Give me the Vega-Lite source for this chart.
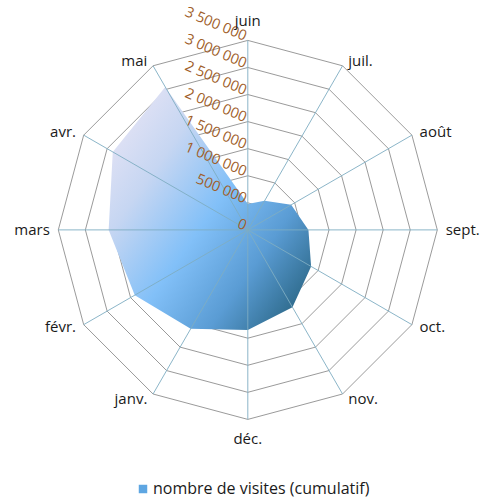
{
  "$schema": "https://vega.github.io/schema/vega-lite/v6.json",
  "width": 486,
  "height": 498,
  "autosize": {"type": "fit", "contains": "padding"},
  "padding": 0,
  "background": "white",
  "config": {
    "view": {"stroke": null},
    "locale": {"number": {"decimal": ",", "thousands": "\u00a0", "grouping": [3], "currency": ["", " €"]}}
  },
  "datasets": {
    "visites": [
      {"mois": "juin", "i": 0, "visites": 480000, "serie": "nombre de visites (cumulatif)"},
      {"mois": "juil.", "i": 1, "visites": 620000, "serie": "nombre de visites (cumulatif)"},
      {"mois": "août", "i": 2, "visites": 925000, "serie": "nombre de visites (cumulatif)"},
      {"mois": "sept.", "i": 3, "visites": 1120000, "serie": "nombre de visites (cumulatif)"},
      {"mois": "oct.", "i": 4, "visites": 1350000, "serie": "nombre de visites (cumulatif)"},
      {"mois": "nov.", "i": 5, "visites": 1650000, "serie": "nombre de visites (cumulatif)"},
      {"mois": "déc.", "i": 6, "visites": 1850000, "serie": "nombre de visites (cumulatif)"},
      {"mois": "janv.", "i": 7, "visites": 2110000, "serie": "nombre de visites (cumulatif)"},
      {"mois": "févr.", "i": 8, "visites": 2410000, "serie": "nombre de visites (cumulatif)"},
      {"mois": "mars", "i": 9, "visites": 2570000, "serie": "nombre de visites (cumulatif)"},
      {"mois": "avr.", "i": 10, "visites": 2880000, "serie": "nombre de visites (cumulatif)"},
      {"mois": "mai", "i": 11, "visites": 3050000, "serie": "nombre de visites (cumulatif)"}
    ],
    "anneaux": [
      {"niveau": 500000, "i": [0, 1, 2, 3, 4, 5, 6, 7, 8, 9, 10, 11]},
      {"niveau": 1000000, "i": [0, 1, 2, 3, 4, 5, 6, 7, 8, 9, 10, 11]},
      {"niveau": 1500000, "i": [0, 1, 2, 3, 4, 5, 6, 7, 8, 9, 10, 11]},
      {"niveau": 2000000, "i": [0, 1, 2, 3, 4, 5, 6, 7, 8, 9, 10, 11]},
      {"niveau": 2500000, "i": [0, 1, 2, 3, 4, 5, 6, 7, 8, 9, 10, 11]},
      {"niveau": 3000000, "i": [0, 1, 2, 3, 4, 5, 6, 7, 8, 9, 10, 11]},
      {"niveau": 3500000, "i": [0, 1, 2, 3, 4, 5, 6, 7, 8, 9, 10, 11]}
    ],
    "graduations": [
      {"valeur": 0}, {"valeur": 500000}, {"valeur": 1000000}, {"valeur": 1500000},
      {"valeur": 2000000}, {"valeur": 2500000}, {"valeur": 3000000}, {"valeur": 3500000}
    ]
  },
  "layer": [
    {
      "data": {"name": "anneaux"},
      "transform": [
        {"flatten": ["i"]},
        {"calculate": "datum.niveau * sin(datum.i * PI / 6)", "as": "px"},
        {"calculate": "datum.niveau * cos(datum.i * PI / 6)", "as": "py"}
      ],
      "mark": {"type": "line", "interpolate": "linear-closed", "stroke": "#8e8e8e", "strokeWidth": 0.9},
      "encoding": {
        "x": {"field": "px", "type": "quantitative", "scale": {"domain": [-4576792, 4399483], "nice": false, "zero": false}, "axis": null},
        "y": {"field": "py", "type": "quantitative", "scale": {"domain": [-4951726, 4246183], "nice": false, "zero": false}, "axis": null},
        "detail": {"field": "niveau", "type": "nominal"},
        "order": {"field": "i", "type": "quantitative"}
      }
    },
    {
      "data": {"name": "visites"},
      "transform": [
        {"calculate": "datum.visites * sin(datum.i * PI / 6)", "as": "px"},
        {"calculate": "datum.visites * cos(datum.i * PI / 6)", "as": "py"}
      ],
      "mark": {
        "type": "line",
        "interpolate": "linear-closed",
        "filled": true,
        "strokeWidth": 0,
        "fill": {
          "gradient": "linear",
          "x1": 0, "y1": 0, "x2": 1, "y2": 0.85,
          "stops": [
            {"offset": 0, "color": "#f1e9f6"},
            {"offset": 0.3, "color": "#c6d6f2"},
            {"offset": 0.55, "color": "#82c0f8"},
            {"offset": 0.78, "color": "#5a9cd4"},
            {"offset": 1, "color": "#2c6888"}
          ]
        }
      },
      "encoding": {
        "x": {"field": "px", "type": "quantitative", "scale": {"domain": [-4576792, 4399483], "nice": false, "zero": false}, "axis": null},
        "y": {"field": "py", "type": "quantitative", "scale": {"domain": [-4951726, 4246183], "nice": false, "zero": false}, "axis": null},
        "order": {"field": "i", "type": "quantitative"}
      }
    },
    {
      "data": {"name": "visites"},
      "transform": [
        {"calculate": "3500000 * sin(datum.i * PI / 6)", "as": "ox"},
        {"calculate": "3500000 * cos(datum.i * PI / 6)", "as": "oy"}
      ],
      "mark": {"type": "rule", "stroke": "#7eadc2", "strokeWidth": 1, "opacity": 0.9},
      "encoding": {
        "x": {"field": "ox", "type": "quantitative", "scale": {"domain": [-4576792, 4399483], "nice": false, "zero": false}, "axis": null},
        "y": {"field": "oy", "type": "quantitative", "scale": {"domain": [-4951726, 4246183], "nice": false, "zero": false}, "axis": null},
        "x2": {"datum": 0},
        "y2": {"datum": 0}
      }
    },
    {
      "data": {"name": "graduations"},
      "mark": {"type": "text", "align": "right", "baseline": "middle", "angle": 23, "dx": -3, "dy": -2, "font": "Open Sans", "fontSize": 14.5, "color": "#a05e2a"},
      "encoding": {
        "x": {"datum": 0, "type": "quantitative", "scale": {"domain": [-4576792, 4399483], "nice": false, "zero": false}, "axis": null},
        "y": {"field": "valeur", "type": "quantitative", "scale": {"domain": [-4951726, 4246183], "nice": false, "zero": false}, "axis": null},
        "text": {"field": "valeur", "type": "quantitative", "format": ",d"}
      }
    },
    {
      "data": {"name": "visites"},
      "transform": [
        {"filter": "datum.i == 0 || datum.i == 6"},
        {"calculate": "3860000 * sin(datum.i * PI / 6)", "as": "lx"},
        {"calculate": "3860000 * cos(datum.i * PI / 6)", "as": "ly"}
      ],
      "mark": {"type": "text", "align": "center", "baseline": "middle", "font": "Open Sans", "fontSize": 15, "color": "#1a1a1a"},
      "encoding": {
        "x": {"field": "lx", "type": "quantitative", "scale": {"domain": [-4576792, 4399483], "nice": false, "zero": false}, "axis": null},
        "y": {"field": "ly", "type": "quantitative", "scale": {"domain": [-4951726, 4246183], "nice": false, "zero": false}, "axis": null},
        "text": {"field": "mois", "type": "nominal"}
      }
    },
    {
      "data": {"name": "visites"},
      "transform": [
        {"filter": "datum.i >= 1 && datum.i <= 5"},
        {"calculate": "3600000 * sin(datum.i * PI / 6)", "as": "lx"},
        {"calculate": "3600000 * cos(datum.i * PI / 6)", "as": "ly"}
      ],
      "mark": {"type": "text", "align": "left", "baseline": "middle", "dx": 3, "font": "Open Sans", "fontSize": 15, "color": "#1a1a1a"},
      "encoding": {
        "x": {"field": "lx", "type": "quantitative", "scale": {"domain": [-4576792, 4399483], "nice": false, "zero": false}, "axis": null},
        "y": {"field": "ly", "type": "quantitative", "scale": {"domain": [-4951726, 4246183], "nice": false, "zero": false}, "axis": null},
        "text": {"field": "mois", "type": "nominal"}
      }
    },
    {
      "data": {"name": "visites"},
      "transform": [
        {"filter": "datum.i >= 7"},
        {"calculate": "3600000 * sin(datum.i * PI / 6)", "as": "lx"},
        {"calculate": "3600000 * cos(datum.i * PI / 6)", "as": "ly"}
      ],
      "mark": {"type": "text", "align": "right", "baseline": "middle", "dx": -3, "font": "Open Sans", "fontSize": 15, "color": "#1a1a1a"},
      "encoding": {
        "x": {"field": "lx", "type": "quantitative", "scale": {"domain": [-4576792, 4399483], "nice": false, "zero": false}, "axis": null},
        "y": {"field": "ly", "type": "quantitative", "scale": {"domain": [-4951726, 4246183], "nice": false, "zero": false}, "axis": null},
        "text": {"field": "mois", "type": "nominal"}
      }
    },
    {
      "data": {"name": "visites"},
      "mark": {"type": "point", "filled": true, "opacity": 0},
      "encoding": {
        "x": {"datum": 0, "type": "quantitative", "scale": {"domain": [-4576792, 4399483], "nice": false, "zero": false}, "axis": null},
        "y": {"datum": 0, "type": "quantitative", "scale": {"domain": [-4951726, 4246183], "nice": false, "zero": false}, "axis": null},
        "color": {
          "field": "serie",
          "type": "nominal",
          "scale": {"range": ["#5ea6e2"]},
          "legend": {
            "title": null,
            "orient": "none",
            "legendX": 135,
            "legendY": 481,
            "padding": 0,
            "symbolType": "square",
            "symbolSize": 72,
            "symbolOpacity": 1,
            "symbolStrokeWidth": 0,
            "labelFont": "Open Sans",
            "labelFontSize": 16,
            "labelColor": "#1a1a1a",
            "labelOffset": 2,
            "labelLimit": 400
          }
        }
      }
    }
  ]
}
